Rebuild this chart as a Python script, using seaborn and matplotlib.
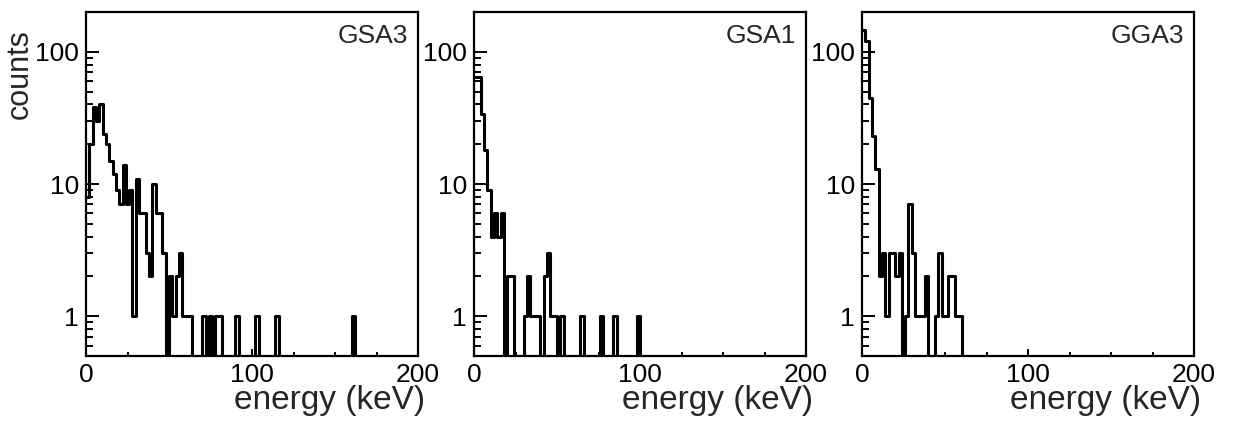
"""
Energy spectra of three detectors (log counts vs energy).
"""

import matplotlib
matplotlib.use("Agg")
import matplotlib.pyplot as plt
from matplotlib.ticker import MultipleLocator, LogLocator, NullFormatter, FixedLocator
import seaborn as sns
import numpy as np
import pandas as pd

# 2 keV bins from 0 to 200 keV
bin_width = 2
energy_range = (0, 200)

# counts per bin, listed up to the last non-empty bin
gsa3_counts = [8, 20, 38, 30, 40, 24, 20, 15, 12, 9,
               7, 14, 7, 9, 1, 11, 6, 6, 3, 2,
               10, 6, 6, 3, 0, 2, 1, 2, 3, 1,
               1, 1, 0, 0, 0, 1, 0, 1, 0, 1,
               1, 0, 0, 0, 0, 1, 0, 0, 0, 0,
               0, 1, 0, 0, 0, 0, 0, 1, 0, 0,
               0, 0, 0, 0, 0, 0, 0, 0, 0, 0,
               0, 0, 0, 0, 0, 0, 0, 0, 0, 0,
               1]
gsa1_counts = [64, 64, 34, 18, 9, 4, 6, 4, 6, 0,
               2, 2, 0, 0, 0, 1, 2, 1, 1, 1,
               0, 2, 3, 1, 1, 0, 1, 0, 0, 0,
               0, 0, 1, 0, 0, 0, 0, 0, 1, 0,
               0, 0, 1, 0, 0, 0, 0, 0, 0, 1]
gga3_counts = [145, 120, 45, 23, 13, 2, 3, 1, 3, 3,
               2, 3, 0, 1, 7, 3, 1, 1, 1, 2,
               0, 0, 1, 3, 1, 1, 2, 2, 1, 1]

detectors = ["GSA3", "GSA1", "GGA3"]
x_ticks = [0, 100, 200]
y_ticks = [1, 10, 100]

n_bins = (energy_range[1] - energy_range[0]) // bin_width
centers = energy_range[0] + bin_width * (np.arange(n_bins) + 0.5)


def pad_counts(counts):
    out = np.zeros(n_bins)
    out[:len(counts)] = counts
    return out


frames = []
for name, counts in zip(detectors, [gsa3_counts, gsa1_counts, gga3_counts]):
    frames.append(pd.DataFrame({"energy": centers, "counts": pad_counts(counts), "detector": name}))
df = pd.concat(frames, ignore_index=True)

sns.set_style("ticks")
plt.rcParams["font.family"] = ["Liberation Sans", "DejaVu Sans"]

W, H = 1237, 426
fig = plt.figure(figsize=(W / 100, H / 100), dpi=100)
lefts = [86, 474, 862]

for i, name in enumerate(detectors):
    ax = fig.add_axes([lefts[i] / W, 70 / H, 332 / W, 344 / H])
    sub = df[df["detector"] == name]
    sns.histplot(data=sub, x="energy", weights="counts", binwidth=bin_width,
                 binrange=energy_range, element="step", fill=False,
                 color="black", linewidth=2.2, ax=ax)
    ax.set_yscale("log")
    ax.set_xlim(*energy_range)
    ax.set_ylim(0.5, 200)

    for s in ax.spines.values():
        s.set_linewidth(1.6)
        s.set_color("black")

    ax.xaxis.set_major_locator(FixedLocator(x_ticks))
    ax.xaxis.set_minor_locator(MultipleLocator(25))
    ax.yaxis.set_major_locator(FixedLocator(y_ticks))
    ax.yaxis.set_minor_locator(LogLocator(base=10, subs=np.arange(2, 10)))
    ax.yaxis.set_minor_formatter(NullFormatter())
    ax.set_yticklabels([str(t) for t in y_ticks])
    ax.set_xticklabels([str(t) for t in x_ticks])
    ax.tick_params(axis="both", which="both", direction="in", colors="black",
                   labelsize=19, width=1.4)
    ax.tick_params(axis="y", which="major", length=9, pad=5)
    ax.tick_params(axis="y", which="minor", length=5)
    ax.tick_params(axis="x", which="major", length=5, pad=5)
    ax.tick_params(axis="x", which="minor", length=3)

    ax.text(0.97, 0.965, name, transform=ax.transAxes, ha="right", va="top", fontsize=19)

    ax.set_xlabel("energy (keV)", fontsize=24)
    ax.xaxis.set_label_coords(1.022, -0.085)
    ax.xaxis.label.set_horizontalalignment("right")
    ax.xaxis.label.set_verticalalignment("top")
    if i == 0:
        ax.set_ylabel("counts", fontsize=22)
        ax.yaxis.set_label_coords(-0.155, 0.82)
        ax.yaxis.label.set_verticalalignment("bottom")
    else:
        ax.set_ylabel("")

fig.savefig("out.png", dpi=100)
